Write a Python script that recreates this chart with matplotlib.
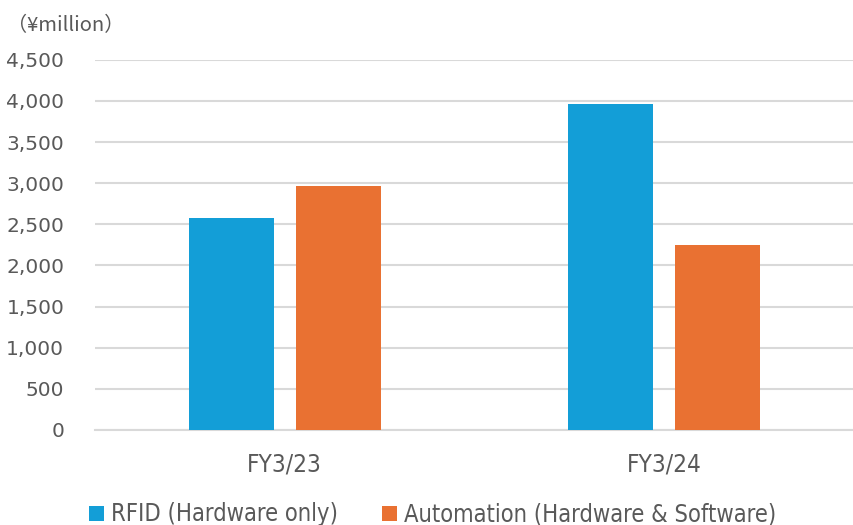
import numpy as np
import matplotlib.pyplot as plt
from matplotlib.ticker import FuncFormatter

years = ['FY3/23', 'FY3/24']
rfid = [2582, 3965]
automation = [2971, 2250]
series_names = ['RFID (Hardware only)', 'Automation (Hardware & Software)']

blue = '#139ED7'
orange = '#E97132'
txt = '#595959'

fig = plt.figure(figsize=(8.54, 5.25), dpi=100)
ax = fig.add_axes([0.111, 0.181, 0.889, 0.705])

x = np.arange(len(years))
w = 0.224
ax.bar(x - 0.141, rfid, w, color=blue, label=series_names[0], zorder=3)
ax.bar(x + 0.141, automation, w, color=orange, label=series_names[1], zorder=3)

ax.set_xlim(-0.5, 1.5)
ax.set_ylim(0, 4500)
ax.set_yticks(np.arange(0, 4501, 500))
ax.yaxis.set_major_formatter(FuncFormatter(lambda v, p: f'{int(v):,}'))
ax.grid(axis='y', color='#D9D9D9', linewidth=1.5, zorder=0)
for s in ['top', 'right', 'left']:
    ax.spines[s].set_visible(False)
ax.spines['bottom'].set_color('#D9D9D9')
ax.spines['bottom'].set_linewidth(1.5)
ax.tick_params(axis='both', length=0, colors=txt)
ax.tick_params(axis='y', labelsize=14.5, pad=22)
ax.set_xticks(x)
ax.set_xticklabels(years, fontsize=17.5, fontstretch='condensed')
ax.tick_params(axis='x', pad=16)

fig.text(0.008, 0.952, '（¥million）', fontsize=14.5,
         family=['Noto Sans CJK JP', 'DejaVu Sans'], color=txt, va='center')

ax.legend(loc='center', bbox_to_anchor=(0.445, -0.228), ncol=2, frameon=False,
          prop={'stretch': 'condensed', 'size': 17},
          labelcolor=txt, handlelength=0.6, handleheight=0.6, handletextpad=0.3,
          columnspacing=1.9, borderpad=0.2)

fig.savefig('out.png', dpi=100)
